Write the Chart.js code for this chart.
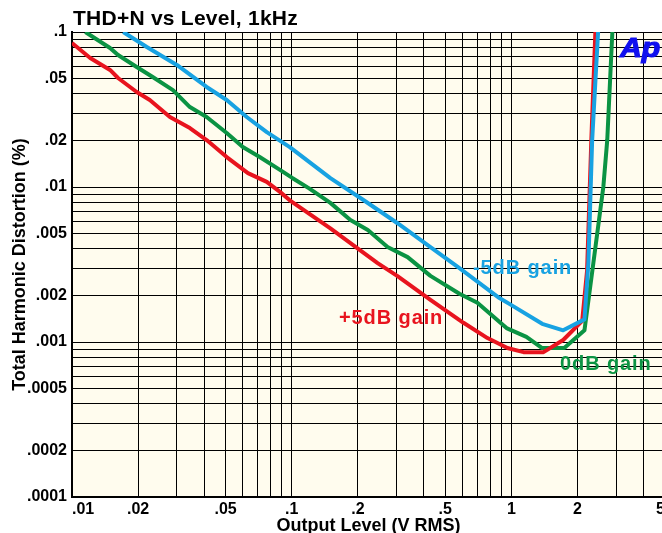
<!DOCTYPE html>
<html>
<head>
<meta charset="utf-8">
<title>THD+N vs Level, 1kHz</title>
<script src="https://cdn.jsdelivr.net/npm/chart.js@4.4.1/dist/chart.umd.min.js"></script>
<style>
  html, body { margin: 0; padding: 0; background: #fff; overflow: hidden; }
  #wrap { width: 670px; height: 533px; }
</style>
</head>
<body>
<div id="wrap"><canvas id="thdChart" width="670" height="533"></canvas></div>
<script>
// values
const chartTitle = 'THD+N vs Level, 1kHz';
const xAxisTitle = 'Output Level (V RMS)';
const yAxisTitle = 'Total Harmonic Distortion (%)';

const xTickLabels = ['.01', '.02', '.05', '.1', '.2', '.5', '1', '2', '5'];
const yTickLabels = ['.0001', '.0002', '.0005', '.001', '.002', '.005', '.01', '.02', '.05', '.1'];

// every grid line of the log paper
const xGridValues = [0.01, 0.02, 0.03, 0.04, 0.05, 0.06, 0.07, 0.08, 0.09,
  0.1, 0.2, 0.3, 0.4, 0.5, 0.6, 0.7, 0.8, 0.9, 1, 2, 3, 4, 5];
const yGridValues = [0.0001, 0.0002, 0.0003, 0.0004, 0.0005, 0.0006, 0.0007, 0.0008, 0.0009,
  0.001, 0.002, 0.003, 0.004, 0.005, 0.006, 0.007, 0.008, 0.009,
  0.01, 0.02, 0.03, 0.04, 0.05, 0.06, 0.07, 0.08, 0.09, 0.1];

const seriesNames = ['+5dB gain', '0dB gain', '-5dB gain'];

// +5dB gain (red)
const plus5Level = [0.01, 0.0121, 0.0149, 0.0162, 0.0197, 0.0226, 0.0279, 0.0344, 0.041, 0.0506,
  0.0632, 0.077, 0.0884, 0.098, 0.15, 0.246, 0.302, 0.428, 0.605, 0.778,
  0.959, 1.135, 1.40, 1.72, 2.10, 2.21, 2.31, 2.41];
const plus5Thd = [0.085, 0.068, 0.0569, 0.0505, 0.041, 0.0364, 0.0283, 0.024, 0.0201, 0.0156,
  0.0123, 0.0108, 0.0093, 0.0082, 0.0054, 0.00323, 0.00267, 0.00187, 0.00133, 0.00106,
  0.000914, 0.00086, 0.00086, 0.00103, 0.00137, 0.0029, 0.02, 0.1];

// 0dB gain (green)
const zeroLevel = [0.0115, 0.0149, 0.0162, 0.0197, 0.0233, 0.0288, 0.0344, 0.041, 0.0506, 0.0599,
  0.0715, 0.0884, 0.101, 0.12, 0.15, 0.185, 0.222, 0.273, 0.337, 0.428,
  0.58, 0.70, 0.95, 1.17, 1.38, 1.74, 2.15, 2.36, 2.62, 2.73, 2.88];
const zeroThd = [0.1, 0.0789, 0.071, 0.0595, 0.0512, 0.0422, 0.0328, 0.0283, 0.0223, 0.0181,
  0.0156, 0.0129, 0.0114, 0.0098, 0.0079, 0.00612, 0.00528, 0.0041, 0.00353, 0.00267,
  0.00205, 0.00179, 0.00123, 0.00108, 0.000914, 0.000914, 0.00119, 0.00323, 0.01, 0.0201, 0.1];

// -5dB gain (blue)
const minus5Level = [0.0171, 0.0219, 0.03, 0.041, 0.0506, 0.0624, 0.077, 0.098, 0.15, 0.212,
  0.302, 0.428, 0.58, 0.882, 1.0, 1.38, 1.72, 2.15, 2.24, 2.33, 2.48];
const minus5Thd = [0.1, 0.08, 0.0613, 0.0442, 0.0364, 0.0283, 0.0226, 0.0181, 0.0114, 0.00824,
  0.00586, 0.0041, 0.0030, 0.00192, 0.00173, 0.00131, 0.00119, 0.0014, 0.00323, 0.02, 0.1];

const RED = '#e8141e';
const GREEN = '#0b9343';
const BLUE = '#18a2e2';
const FONT = '"Liberation Sans", Arial, Helvetica, sans-serif';

const toPoints = (xs, ys) => xs.map((x, i) => ({ x: x, y: ys[i] }));

// only 1-2-5 values get a label, the rest are just grid lines
function tickText(labels) {
  return function (value) {
    const hit = labels.find(l => Math.abs(parseFloat(l) - value) < value * 1e-6);
    return hit === undefined ? '' : hit;
  };
}

// cream paper behind the plot + title, logo and curve labels
const decorPlugin = {
  id: 'decor',
  beforeDraw(chart) {
    const { ctx, chartArea: a } = chart;
    ctx.save();
    ctx.fillStyle = '#fffcee';
    ctx.fillRect(a.left, a.top, a.right - a.left, a.bottom - a.top);
    ctx.restore();
  },
  afterDatasetsDraw(chart) {
    const ctx = chart.ctx;
    const spacing = (px) => { if ('letterSpacing' in ctx) ctx.letterSpacing = px; };
    ctx.save();
    ctx.textBaseline = 'alphabetic';
    ctx.textAlign = 'left';
    ctx.fillStyle = '#000';
    ctx.font = 'bold 21px ' + FONT;
    spacing('0.25px');
    ctx.fillText(chartTitle, 73, 25);

    // curve labels (baselines)
    ctx.font = 'bold 20px ' + FONT;
    spacing('0.9px');
    ctx.fillStyle = RED;
    ctx.fillText(seriesNames[0], 339, 324);
    ctx.fillStyle = GREEN;
    ctx.fillText(seriesNames[1], 560, 370);
    ctx.fillStyle = BLUE;
    ctx.fillText(seriesNames[2], 473, 274);
    spacing('0px');

    // Ap logo
    ctx.fillStyle = '#1010ee';
    ctx.strokeStyle = '#1010ee';
    ctx.lineWidth = 1.2;
    ctx.translate(620, 57);
    ctx.scale(1.08, 1);
    ctx.font = 'italic bold 28px ' + FONT;
    ctx.fillText('Ap', 0, 0);
    ctx.strokeText('Ap', 0, 0);
    ctx.restore();
  }
};

const ctx = document.getElementById('thdChart').getContext('2d');
const thdChart = new Chart(ctx, {
  type: 'line',
  data: {
    datasets: [
      {
        label: seriesNames[0],
        data: toPoints(plus5Level, plus5Thd),
        borderColor: RED,
        order: 2,
      },
      {
        label: seriesNames[1],
        data: toPoints(zeroLevel, zeroThd),
        borderColor: GREEN,
        order: 3,
      },
      {
        label: seriesNames[2],
        data: toPoints(minus5Level, minus5Thd),
        borderColor: BLUE,
        order: 1,
      },
    ],
  },
  options: {
    responsive: false,
    animation: false,
    events: [],
    layout: { padding: { top: 32, right: 5, bottom: 0, left: 0 } },
    elements: {
      line: { borderWidth: 4, tension: 0, fill: false, borderJoinStyle: 'round' },
      point: { radius: 0 },
    },
    plugins: {
      legend: { display: false },
      tooltip: { enabled: false },
    },
    scales: {
      x: {
        type: 'logarithmic',
        min: 0.01,
        max: 5,
        afterBuildTicks: (scale) => { scale.ticks = xGridValues.map(v => ({ value: v })); },
        afterFit: (scale) => { scale.height = 36; },
        grid: { color: '#000', lineWidth: 1, drawTicks: false },
        border: { color: '#000', width: 2 },
        ticks: {
          autoSkip: false,
          maxRotation: 0,
          minRotation: 0,
          align: 'inner',
          padding: 3,
          color: '#000',
          font: { family: FONT, size: 16, weight: 'bold' },
          callback: tickText(xTickLabels),
        },
        title: {
          display: true,
          text: xAxisTitle,
          color: '#000',
          padding: { top: 0, bottom: -4 },
          font: { family: FONT, size: 18, weight: 'bold' },
        },
      },
      y: {
        type: 'logarithmic',
        min: 0.0001,
        max: 0.1,
        afterBuildTicks: (scale) => { scale.ticks = yGridValues.map(v => ({ value: v })); },
        afterFit: (scale) => { scale.width = 72; },
        grid: { color: '#000', lineWidth: 1, drawTicks: false },
        border: { color: '#000', width: 2 },
        ticks: {
          autoSkip: false,
          padding: 5,
          color: '#000',
          font: { family: FONT, size: 16, weight: 'bold' },
          callback: tickText(yTickLabels),
        },
        title: {
          display: true,
          text: yAxisTitle,
          color: '#000',
          padding: { top: 9, bottom: 0 },
          font: { family: FONT, size: 18, weight: 'bold' },
        },
      },
    },
  },
  plugins: [decorPlugin],
});
</script>
</body>
</html>
